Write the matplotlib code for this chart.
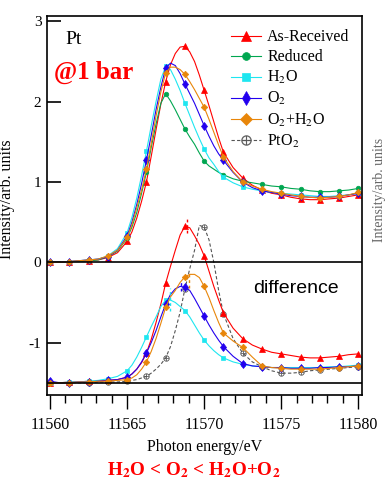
import matplotlib
matplotlib.use("Agg")
import matplotlib.pyplot as plt

plt.rcParams['font.family'] = ['Liberation Serif', 'DejaVu Serif']
plt.rcParams['mathtext.fontset'] = 'stix'
plt.rcParams['axes.unicode_minus'] = False

# photon energy grid (eV), finer around the white line
energy = [11560.0, 11560.625, 11561.25, 11561.875, 11562.5, 11563.125, 11563.75, 11564.375, 11565.0,
          11565.3125, 11565.625, 11565.9375, 11566.25, 11566.5625, 11566.875, 11567.1875, 11567.5,
          11567.8125, 11568.125, 11568.4375, 11568.75, 11569.0625, 11569.375, 11569.6875, 11570.0,
          11570.3125, 11570.625, 11570.9375, 11571.25,
          11571.875, 11572.5, 11573.125, 11573.75, 11574.375, 11575.0, 11575.625, 11576.25,
          11576.875, 11577.5, 11578.125, 11578.75, 11579.375, 11580.0]

# XANES spectra
asrec = [0.00, 0.00, 0.01, 0.01, 0.02, 0.03, 0.06, 0.12, 0.26,
         0.38, 0.55, 0.76, 1.00, 1.32, 1.65, 1.97, 2.25, 2.46, 2.60, 2.68, 2.69, 2.62, 2.50, 2.33, 2.14,
         1.95, 1.75, 1.55, 1.37,
         1.18, 1.05, 0.96, 0.90, 0.86, 0.84, 0.81, 0.79, 0.78, 0.78, 0.79, 0.80, 0.82, 0.84]
reduced = [0.00, 0.00, 0.01, 0.01, 0.02, 0.03, 0.07, 0.14, 0.30,
           0.44, 0.62, 0.86, 1.12, 1.43, 1.72, 1.98, 2.10, 2.01, 1.90, 1.78, 1.66, 1.56, 1.47, 1.36, 1.26,
           1.20, 1.16, 1.12, 1.09,
           1.04, 1.01, 0.99, 0.97, 0.95, 0.94, 0.92, 0.91, 0.89, 0.88, 0.88, 0.89, 0.90, 0.92]
h2o = [0.00, 0.00, 0.01, 0.02, 0.03, 0.04, 0.08, 0.17, 0.37,
       0.56, 0.80, 1.08, 1.38, 1.70, 2.00, 2.28, 2.44, 2.40, 2.28, 2.14, 1.98, 1.83, 1.68, 1.54, 1.41,
       1.30, 1.22, 1.13, 1.06,
       0.99, 0.94, 0.91, 0.89, 0.87, 0.86, 0.85, 0.84, 0.83, 0.82, 0.82, 0.83, 0.84, 0.86]
o2 = [0.00, 0.00, 0.01, 0.02, 0.03, 0.04, 0.07, 0.15, 0.33,
      0.50, 0.72, 0.98, 1.27, 1.58, 1.90, 2.18, 2.42, 2.48, 2.45, 2.35, 2.22, 2.10, 1.98, 1.84, 1.70,
      1.57, 1.45, 1.35, 1.27,
      1.12, 1.00, 0.93, 0.89, 0.87, 0.85, 0.83, 0.82, 0.81, 0.81, 0.81, 0.82, 0.84, 0.86]
o2h2o = [0.00, 0.00, 0.01, 0.02, 0.03, 0.04, 0.08, 0.15, 0.31,
         0.47, 0.68, 0.90, 1.16, 1.48, 1.82, 2.12, 2.36, 2.43, 2.43, 2.40, 2.34, 2.25, 2.15, 2.04, 1.93,
         1.78, 1.62, 1.46, 1.31,
         1.13, 1.00, 0.95, 0.91, 0.88, 0.86, 0.84, 0.82, 0.81, 0.80, 0.81, 0.82, 0.84, 0.87]

# difference spectra (offset by -1.5)
asrec_d = [-1.50, -1.50, -1.49, -1.49, -1.48, -1.48, -1.47, -1.46, -1.43,
           -1.39, -1.33, -1.25, -1.13, -0.96, -0.75, -0.52, -0.26, -0.05, 0.15, 0.34, 0.45, 0.43, 0.33, 0.22, 0.08,
           -0.11, -0.30, -0.47, -0.63,
           -0.82, -0.95, -1.03, -1.08, -1.12, -1.14, -1.16, -1.18, -1.19, -1.19, -1.18, -1.17, -1.15, -1.14]
h2o_d = [-1.50, -1.50, -1.49, -1.49, -1.48, -1.47, -1.45, -1.42, -1.35,
         -1.28, -1.18, -1.06, -0.93, -0.80, -0.68, -0.55, -0.47, -0.47, -0.50, -0.55, -0.60, -0.68, -0.78, -0.88, -0.97,
         -1.04, -1.10, -1.15, -1.19,
         -1.24, -1.27, -1.29, -1.30, -1.31, -1.31, -1.31, -1.31, -1.31, -1.31, -1.30, -1.30, -1.29, -1.28]
o2_d = [-1.48, -1.50, -1.50, -1.49, -1.49, -1.48, -1.47, -1.46, -1.43,
        -1.39, -1.33, -1.24, -1.13, -1.00, -0.85, -0.68, -0.52, -0.40, -0.33, -0.30, -0.31, -0.35, -0.45, -0.56, -0.67,
        -0.78, -0.88, -0.97, -1.05,
        -1.17, -1.26, -1.29, -1.30, -1.31, -1.31, -1.32, -1.32, -1.32, -1.31, -1.31, -1.30, -1.30, -1.29]
o2h2o_d = [-1.50, -1.50, -1.50, -1.49, -1.49, -1.48, -1.48, -1.47, -1.46,
           -1.44, -1.40, -1.33, -1.24, -1.11, -0.95, -0.76, -0.56, -0.43, -0.35, -0.25, -0.18, -0.15, -0.15, -0.19, -0.30,
           -0.44, -0.60, -0.75, -0.88,
           -0.98, -1.06, -1.18, -1.29, -1.31, -1.32, -1.33, -1.33, -1.33, -1.33, -1.32, -1.31, -1.30, -1.29]
pto2_d = [-1.50, -1.50, -1.50, -1.50, -1.50, -1.49, -1.49, -1.49, -1.48,
          -1.47, -1.46, -1.44, -1.42, -1.38, -1.33, -1.27, -1.19, -1.05, -0.85, -0.62, -0.33, -0.08, 0.15, 0.46, 0.44,
          0.28, 0.00, -0.35, -0.64,
          -0.95, -1.13, -1.24, -1.30, -1.35, -1.38, -1.38, -1.37, -1.35, -1.34, -1.33, -1.32, -1.31, -1.30]

# peak position marks on the difference curves
peak_e = [11568.9, 11569.0, 11568.5, 11567.8]
peak_lo = [0.36, -0.32, -0.36, -0.60]
peak_hi = [0.55, -0.12, -0.24, -0.32]
peak_c = ['#ff0000', '#e8860a', '#2200ee', '#1ee6f0']

c_red, c_grn, c_cya, c_blu, c_org, c_gry = '#ff0000', '#00a650', '#1ee6f0', '#2200ee', '#e8860a', '#555555'

# a marker every 1.25 eV
marks = [i for i, e in enumerate(energy) if abs((e - 11560) / 1.25 - round((e - 11560) / 1.25)) < 1e-6]

fig = plt.figure(figsize=(3.87, 4.95), dpi=100)
ax = fig.add_axes([47/387, 100/495, 315/387, 379/495])

lw = 0.8
mk = dict(markevery=marks, markeredgewidth=0.5)
ax.plot(energy, asrec, color=c_red, lw=lw, marker='^', ms=4, label='As-Received', **mk)
ax.plot(energy, reduced, color=c_grn, lw=lw, marker='o', ms=3.3, label='Reduced', **mk)
ax.plot(energy, h2o, color=c_cya, lw=lw, marker='s', ms=3.3, label='H$_2$O', **mk)
ax.plot(energy, o2, color=c_blu, lw=lw, marker='d', ms=4.3, label='O$_2$', **mk)
ax.plot(energy, o2h2o, color=c_org, lw=lw, marker='D', ms=3.3, label='O$_2$+H$_2$O', **mk)
ax.plot(energy, pto2_d, color=c_gry, lw=lw, ls=(0, (3, 2)), marker=r'$\oplus$', ms=4.3,
        label='PtO$_2$', markevery=marks, markeredgewidth=0.2)

ax.plot(energy, asrec_d, color=c_red, lw=lw, marker='^', ms=4, **mk)
ax.plot(energy, h2o_d, color=c_cya, lw=lw, marker='s', ms=3.3, **mk)
ax.plot(energy, o2_d, color=c_blu, lw=lw, marker='d', ms=4.3, **mk)
ax.plot(energy, o2h2o_d, color=c_org, lw=lw, marker='D', ms=3.3, **mk)

for e, lo, hi, c in zip(peak_e, peak_lo, peak_hi, peak_c):
    ax.plot([e, e], [lo, hi], color=c, lw=1.0, ls=(0, (2, 2)))

ax.axhline(0, color='black', lw=1.2)
ax.axhline(-1.5, color='black', lw=1.2)

ax.set_xlim(11559.8, 11580.24)
ax.set_ylim(-1.652, 3.067)
ax.set_yticks([-1, 0, 1, 2, 3])
ax.set_xticks([11560, 11565, 11570, 11575, 11580])
ax.set_xticks(range(11560, 11581), minor=True)
ax.tick_params(axis='y', direction='in', length=10, width=1.2, labelsize=11, pad=4)
ax.tick_params(axis='x', which='major', direction='out', length=10, width=1.0, labelsize=11.5, pad=6)
ax.tick_params(axis='x', which='minor', direction='out', length=6, width=1.0)
for s in ax.spines.values():
    s.set_linewidth(1.2)

ax.set_xlabel('Photon energy/eV', fontsize=11.5, labelpad=4)
ax.set_ylabel('Intensity/arb. units', fontsize=11.5)
ax.yaxis.set_label_coords(-0.10, 0.517)

ax.text(0.057, 0.937, 'Pt', transform=ax.transAxes, fontsize=14, va='center')
ax.text(0.022, 0.85, '@1 bar', transform=ax.transAxes, fontsize=18, color='red',
        fontweight='bold', va='center')
ax.text(0.655, 0.282, 'difference', transform=ax.transAxes, fontsize=14,
        family='Liberation Sans', va='center')

ax.legend(loc='upper left', bbox_to_anchor=(0.585, 0.965), frameon=False, fontsize=11.5,
          handlelength=1.85, handletextpad=0.4, labelspacing=0.25, borderpad=0, borderaxespad=0,
          markerscale=1.7)

fig.text(0.5, (495 - 470) / 495, r'H$_{\mathbf{2}}$O < O$_{\mathbf{2}}$ < H$_{\mathbf{2}}$O+O$_{\mathbf{2}}$',
         color='red', fontsize=13.8, fontweight='bold', ha='center', va='center')
fig.text(379 / 387, (495 - 190) / 495, 'Intensity/arb. units', rotation=90, fontsize=10,
         color='#666666', ha='center', va='center')

fig.savefig('out.png', dpi=100)
